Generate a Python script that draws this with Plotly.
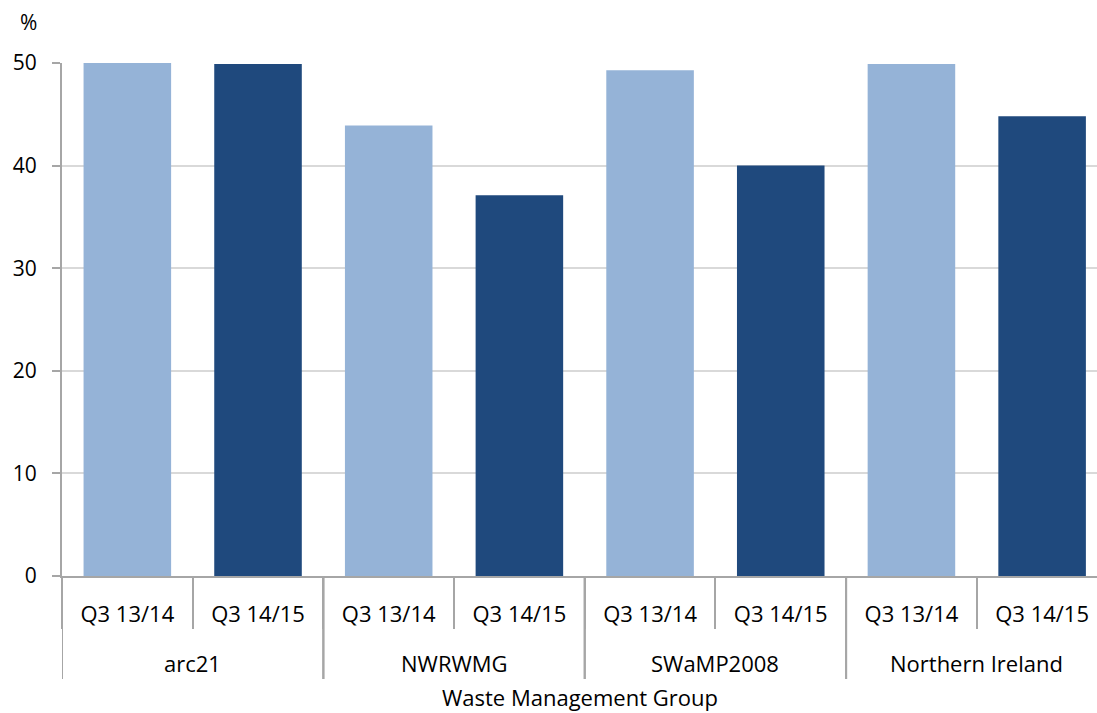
import plotly.graph_objects as go

groups = ["arc21", "arc21", "NWRWMG", "NWRWMG", "SWaMP2008", "SWaMP2008",
          "Northern Ireland", "Northern Ireland"]
periods = ["Q3 13/14", "Q3 14/15"] * 4
values = [50.1, 49.9, 43.9, 37.1, 49.3, 40.0, 49.9, 44.8]
colors = ["#95B3D7" if p == "Q3 13/14" else "#1F497D" for p in periods]

FONT = "Open Sans"
XFS = 22
YFS = 21
AXC = "#A6A6A6"
PLOT_H = 713 - 63 - 137

idx = list(range(len(values)))

fig = go.Figure(go.Bar(
    x=idx, y=values,
    marker=dict(color=colors, line=dict(width=0)),
    width=0.67,
))

# group labels, group dividers derived from the data
annotations = []
shapes = []
unique_groups = list(dict.fromkeys(groups))
for g in unique_groups:
    members = [i for i, gg in enumerate(groups) if gg == g]
    centre = sum(members) / len(members)
    annotations.append(dict(text=g, xref="x", yref="paper", x=centre, y=0,
                            yshift=-87, xanchor="center", yanchor="middle",
                            showarrow=False, font=dict(family=FONT, size=XFS)))
    for b in (min(members) - 0.5, max(members) + 0.5):
        shapes.append(dict(type="line", xref="x", yref="paper", x0=b, x1=b,
                           y0=0, y1=-103 / PLOT_H,
                           line=dict(color=AXC, width=2)))

annotations.append(dict(text="Waste Management Group", xref="paper", yref="paper",
                        x=0.5, y=0, yshift=-121, xanchor="center", yanchor="middle",
                        showarrow=False, font=dict(family=FONT, size=XFS)))
annotations.append(dict(text="%", xref="paper", yref="paper", x=0, y=1, xshift=-34,
                        yshift=41, xanchor="center", yanchor="middle",
                        showarrow=False, font=dict(family=FONT, size=YFS)))

fig.update_layout(
    width=1097, height=713,
    margin=dict(l=62, r=0, t=63, b=137),
    plot_bgcolor="white", paper_bgcolor="white",
    showlegend=False,
    font=dict(family=FONT, size=XFS, color="#000000"),
    annotations=annotations,
    shapes=shapes,
)
fig.update_yaxes(range=[0, 50], dtick=10, showgrid=True, gridcolor="#D9D9D9",
                 gridwidth=2, showline=True, linecolor=AXC, linewidth=2,
                 ticks="outside", ticklen=8, tickcolor=AXC, tickwidth=2,
                 ticklabelstandoff=11, zeroline=False,
                 tickfont=dict(family=FONT, size=YFS))
fig.update_xaxes(range=[-0.5, 7.42], showgrid=False, zeroline=False,
                 showline=True, linecolor=AXC, linewidth=2,
                 tickvals=idx, ticktext=periods, ticks="",
                 ticklabelstandoff=18,
                 minor=dict(ticks="outside", tick0=-0.5, dtick=1, ticklen=51,
                            tickcolor=AXC, tickwidth=2, showgrid=False),
                 tickfont=dict(family=FONT, size=XFS))
fig.write_html("out.html")
